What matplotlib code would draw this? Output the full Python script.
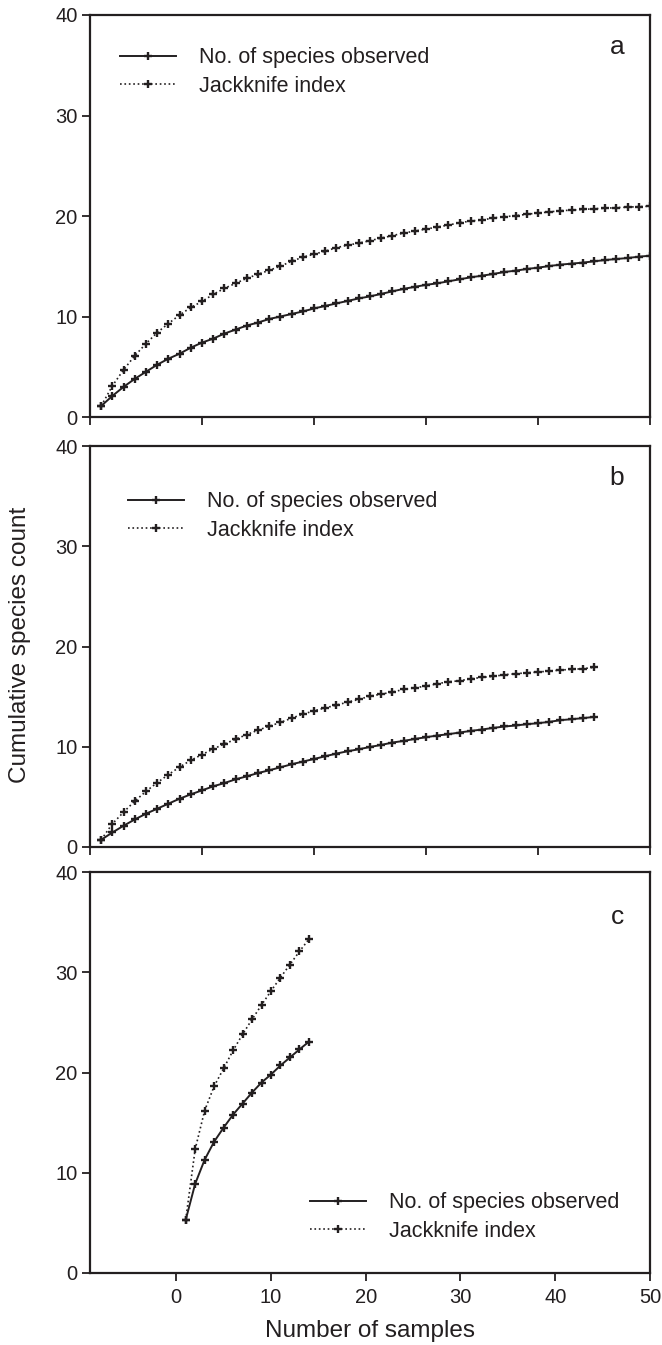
import numpy as np
import matplotlib.pyplot as plt

plt.rcParams['font.family'] = ['Liberation Sans', 'DejaVu Sans']

# Panel a: 50 samples
a_samples = list(range(1, 51))
a_observed = [1.1, 2.1, 3.0, 3.8, 4.5, 5.2, 5.8, 6.3, 6.9, 7.4,
              7.8, 8.3, 8.7, 9.1, 9.4, 9.75, 10.0, 10.25, 10.5, 10.8,
              11.05, 11.3, 11.55, 11.8, 12.0, 12.25, 12.5, 12.75, 12.95, 13.15,
              13.3, 13.5, 13.7, 13.9, 14.06, 14.23, 14.43, 14.56, 14.73, 14.86,
              15.02, 15.16, 15.26, 15.36, 15.49, 15.62, 15.72, 15.82, 15.95, 16.05]
a_jackknife = [1.1, 3.1, 4.7, 6.1, 7.3, 8.4, 9.3, 10.15, 10.9, 11.5,
               12.2, 12.8, 13.3, 13.8, 14.2, 14.6, 15.0, 15.5, 15.9, 16.2,
               16.5, 16.85, 17.1, 17.3, 17.55, 17.8, 18.05, 18.3, 18.5, 18.7,
               18.9, 19.1, 19.33, 19.5, 19.6, 19.8, 19.93, 20.03, 20.17, 20.3,
               20.4, 20.53, 20.58, 20.65, 20.72, 20.77, 20.83, 20.88, 20.93, 20.98]

# Panel b: 45 samples
b_samples = list(range(1, 46))
b_observed = [0.72, 1.45, 2.12, 2.75, 3.32, 3.82, 4.32, 4.82, 5.25, 5.65,
              6.05, 6.38, 6.75, 7.05, 7.38, 7.65, 7.95, 8.25, 8.52, 8.78,
              9.05, 9.32, 9.55, 9.75, 9.98, 10.18, 10.42, 10.58, 10.78, 10.95,
              11.12, 11.25, 11.42, 11.58, 11.72, 11.88, 12.02, 12.12, 12.25, 12.35,
              12.48, 12.65, 12.75, 12.85, 12.98]
b_jackknife = [0.72, 2.32, 3.48, 4.58, 5.55, 6.42, 7.22, 7.98, 8.65, 9.22,
               9.78, 10.28, 10.75, 11.22, 11.65, 12.05, 12.42, 12.85, 13.25, 13.58,
               13.88, 14.15, 14.45, 14.72, 15.05, 15.25, 15.45, 15.72, 15.88, 16.05,
               16.28, 16.48, 16.58, 16.78, 16.92, 17.02, 17.18, 17.28, 17.38, 17.45,
               17.55, 17.65, 17.72, 17.78, 17.92]

# Panel c: 14 samples
c_samples = list(range(1, 15))
c_observed = [5.3, 8.9, 11.3, 13.1, 14.5, 15.8, 16.9, 18.0, 19.0, 19.8,
              20.7, 21.5, 22.3, 23.07]
c_jackknife = [5.3, 12.35, 16.2, 18.63, 20.4, 22.2, 23.8, 25.3, 26.73, 28.13,
               29.47, 30.77, 32.07, 33.3]

panel_letters = ['a', 'b', 'c']
y_ticks = [0, 10, 20, 30, 40]
x_ticks = [0, 10, 20, 30, 40, 50]

ink = '#231f20'
fig = plt.figure(figsize=(6.62, 13.45), dpi=100)
W, H = 662.0, 1345.0
left, right = 90 / W, 650 / W
tops = [15, 446, 872]
bottoms = [417, 847, 1273]

axes = []
for top, bot in zip(tops, bottoms):
    ax = fig.add_axes([left, 1 - bot / H, right - left, (bot - top) / H])
    axes.append(ax)

data = [(a_samples, a_observed, a_jackknife),
        (b_samples, b_observed, b_jackknife),
        (c_samples, c_observed, c_jackknife)]

for i, ax in enumerate(axes):
    xs, obs, jk = data[i]
    ax.plot(xs, obs, '-', color=ink, lw=1.4, marker='+', ms=5.5, mew=1.7,
            label='No. of species observed')
    ax.plot(xs, jk, ':', color=ink, lw=1.2, marker='+', ms=5.5, mew=1.7,
            label='Jackknife index')
    ax.set_ylim(0, 40)
    ax.set_yticks(y_ticks)
    ax.set_xticks(x_ticks)
    ax.tick_params(direction='out', length=6, width=1.3, labelsize=14.5,
                   colors=ink)
    ax.tick_params(axis='y', pad=3)
    ax.tick_params(axis='x', pad=5)
    for s in ax.spines.values():
        s.set_linewidth(1.6)
        s.set_color(ink)

axes[0].set_xlim(0, 50)
axes[1].set_xlim(0, 50)
axes[2].set_xlim(-9.1, 50)
axes[0].set_xticklabels([])
axes[1].set_xticklabels([])

# panel letters
letter_y = [47, 478, 917]
for i, ax in enumerate(axes):
    fig.text(617 / W, 1 - letter_y[i] / H, panel_letters[i], fontsize=19,
             ha='center', va='center', color=ink)

leg_kw = dict(frameon=False, fontsize=15.5, handlelength=2.6, handletextpad=1.05,
              labelspacing=0.35, labelcolor=ink, borderpad=0, borderaxespad=0)
leg_pos = [(120, 72), (128, 516), (310, 1217)]
for ax, (lx, ly) in zip(axes, leg_pos):
    ax.legend(loc='center left', bbox_to_anchor=(lx / W, 1 - ly / H),
              bbox_transform=fig.transFigure, **leg_kw)

fig.text(370 / W, 1 - 1331 / H, 'Number of samples', fontsize=17.5,
         ha='center', va='center', color=ink)
fig.text(20 / W, 1 - 645 / H, 'Cumulative species count', rotation=90,
         fontsize=17.5, ha='center', va='center', color=ink)

fig.savefig('out.png', dpi=100)
